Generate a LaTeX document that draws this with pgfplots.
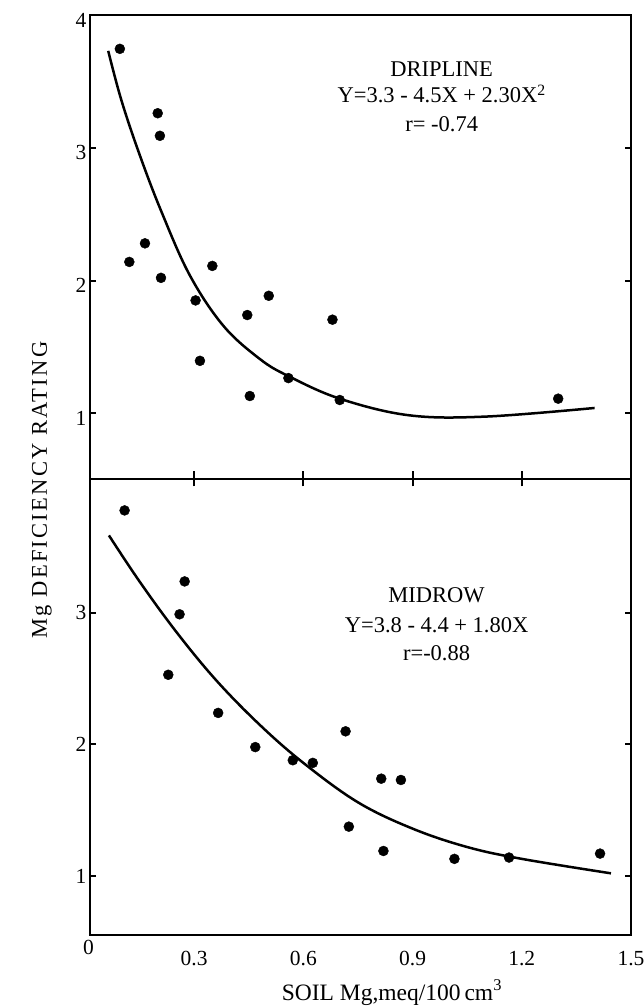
\documentclass[border=0pt]{standalone}
\usepackage{fontspec}
\setmainfont{Liberation Serif}
\newfontfamily\ylabfont[LetterSpace=10]{Liberation Serif}
\usepackage{pgfplots}
\pgfplotsset{compat=1.18}
\begin{document}
\begin{tikzpicture}
\useasboundingbox (0,0) rectangle (643pt,1006pt);
\pgfplotsset{
  common/.style={
    scale only axis, width=541pt,
    xmin=0.014, xmax=1.5,
    axis line style={line width=2pt},
    tick align=inside, major tick length=6pt,
    every tick/.style={line width=2pt, black},
    /pgf/number format/assume math mode=true,
    tick label style={font=\fontsize{21.5}{25}\selectfont},
    clip=false,
  },
}
% ---------------- top panel: DRIPLINE ----------------
\begin{axis}[common,
  at={(90pt,527pt)}, anchor=south west, height=464pt,
  ymin=0.505, ymax=4,
  ytick={1,2,3,4},
  yticklabel style={yshift=-5pt},
  xtick=\empty, xtick pos=left,
  extra x ticks={0.3,0.6,0.9,1.2}, extra x tick labels={},
  extra x tick style={tick align=center, major tick length=15pt},
  ylabel={\ylabfont\fontsize{22.5}{26}\selectfont Mg DEFICIENCY RATING},
  ylabel style={at={(axis description cs:-0.0795,-0.024)}, anchor=base, rotate=0},
]
\addplot[only marks, mark=*, mark size=5pt, black] coordinates {
(0.096,3.745) (0.200,3.26) (0.206,3.09) (0.165,2.28) (0.122,2.14)
(0.209,2.02) (0.350,2.11) (0.304,1.85) (0.316,1.395) (0.446,1.74)
(0.453,1.13) (0.505,1.885) (0.559,1.265) (0.680,1.705) (0.700,1.10)
(1.300,1.11)
};
\addplot[smooth, tension=0.6, line width=2.5pt, black] coordinates {
(0.064,3.73) (0.100,3.36) (0.150,2.95) (0.210,2.52) (0.288,2.04)
(0.380,1.66) (0.480,1.41) (0.559,1.28) (0.700,1.11) (0.890,0.985)
(1.100,0.975) (1.400,1.04)
};
\node[anchor=base, font=\fontsize{22.5}{26}\selectfont] at (axis cs:0.98,3.535) {DRIPLINE};
\node[anchor=base, font=\fontsize{22.5}{26}\selectfont] at (axis cs:0.98,3.34) {Y=3.3 - 4.5X + 2.30X\textsuperscript{2}};
\node[anchor=base, font=\fontsize{22.5}{26}\selectfont] at (axis cs:0.98,3.12) {r= -0.74};
\end{axis}
% ---------------- bottom panel: MIDROW ----------------
\begin{axis}[common,
  at={(90pt,71pt)}, anchor=south west, height=456pt,
  ymin=0.551, ymax=4.019,
  ytick={1,2,3},
  xtick={0.3,0.6,0.9,1.2,1.5},
  xticklabels={0.3,0.6,0.9,1.2,1.5},
  xticklabel style={yshift=-13pt},
  major x tick style={draw=none},
  xtick pos=left,
  extra x ticks={0.3,0.6,0.9,1.2}, extra x tick labels={},
  extra x tick style={tick align=outside, major tick length=5pt},
  xlabel={\fontsize{23.5}{28}\selectfont SOIL Mg,meq/100\,cm\textsuperscript{3}},
  xlabel style={at={(axis description cs:0.558,0)}, anchor=base, yshift=-65pt},
]
\addplot[only marks, mark=*, mark size=5pt, black] coordinates {
(0.109,3.78) (0.274,3.24) (0.260,2.99) (0.229,2.53) (0.366,2.24)
(0.468,1.98) (0.571,1.88) (0.626,1.86) (0.716,2.10) (0.725,1.375)
(0.814,1.74) (0.868,1.73) (0.820,1.19) (1.015,1.13) (1.165,1.14)
(1.415,1.17)
};
\addplot[smooth, tension=0.6, line width=2.5pt, black] coordinates {
(0.066,3.59) (0.150,3.24) (0.250,2.86) (0.360,2.49) (0.480,2.15)
(0.600,1.86) (0.750,1.56) (0.900,1.36) (1.050,1.22) (1.200,1.13)
(1.445,1.02)
};
\node[anchor=base, font=\fontsize{22.5}{26}\selectfont] at (axis cs:0.966,3.076) {MIDROW};
\node[anchor=base, font=\fontsize{22.5}{26}\selectfont] at (axis cs:0.966,2.855) {Y=3.8 - 4.4 + 1.80X};
\node[anchor=base, font=\fontsize{22.5}{26}\selectfont] at (axis cs:0.966,2.64) {r=-0.88};
\node[anchor=north, inner sep=0pt, font=\fontsize{21.5}{25}\selectfont] at (axis cs:0.01,0.551) [yshift=-5pt] {0};
\end{axis}
\end{tikzpicture}
\end{document}
